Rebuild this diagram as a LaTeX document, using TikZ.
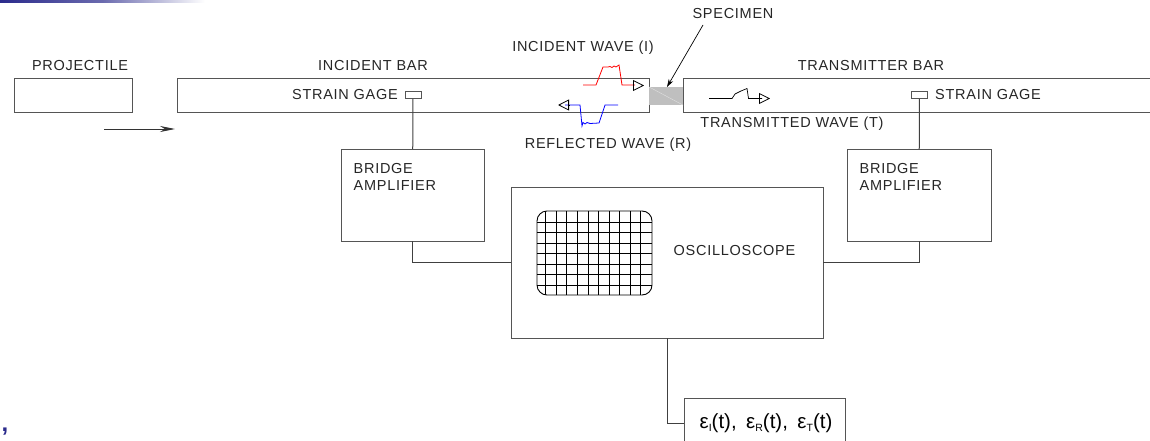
\documentclass[tikz,border=0pt]{standalone}
\usepackage{fontspec}
\usepackage{xcolor}
\usepackage{tikz}
\usetikzlibrary{arrows.meta}
\setmainfont{Liberation Sans}
\definecolor{boxline}{HTML}{555555}
\definecolor{slidenavy}{HTML}{2B2B8C}
\newcommand*{\screenXMin}{537}
\newcommand*{\screenXMax}{652}
\newcommand*{\screenYMin}{211}
\newcommand*{\screenYMax}{295}
\newcommand*{\strainOf}[1]{ε\raisebox{-3.5pt}{\fontsize{10.5pt}{11pt}\selectfont #1}(t)}
\tikzset{
  boxnode/.style={draw=boxline,line width=1pt,inner sep=0pt,outer sep=0pt},
  label/.style={font=\fontsize{14.5pt}{15pt}\selectfont\addfontfeature{LetterSpace=5},text=black!85,inner sep=0pt},
  wire/.style={draw=black!75,line width=1pt},
  wavetip/.style={black,line width=0.8pt,-{Triangle[open,length=11pt,width=11pt]}},
}
\begin{document}
\begin{tikzpicture}[x=1pt,y=-1pt]
    \useasboundingbox (0,0) rectangle (1150,441);

    \shade [left color=slidenavy,right color=white,middle color=slidenavy!70] (0,0) rectangle (205,2.5);
    \node [text=slidenavy,font=\fontsize{24pt}{24pt}\selectfont\bfseries,inner sep=0pt] (mark) at (5,432) {,};

    % bars
    \node [boxnode,minimum width=118pt,minimum height=34pt] (projectile) at (73,96) {};
    \node [boxnode,minimum width=472pt,minimum height=34pt] (incident) at (413,96) {};
    \node [boxnode,minimum width=480pt,minimum height=34pt] (transmitter) at (923,96) {};
    \node [draw=none,fill=black!25,minimum width=34pt,minimum height=18pt,inner sep=0pt] (specimen) at (666,96) {};
    \draw [black!12,line width=0.4pt] (specimen.north west) -- (specimen.south east);

    % gages and boxes
    \node [boxnode,minimum width=16pt,minimum height=7pt] (gageI) at (413,95.5) {};
    \node [boxnode,minimum width=16pt,minimum height=7pt] (gageT) at (919.5,95.5) {};
    \node [boxnode,minimum width=143pt,minimum height=92pt] (bridgeI) at (412.5,195) {};
    \node [boxnode,minimum width=144pt,minimum height=92pt] (bridgeT) at (919,195) {};
    \node [boxnode,minimum width=312pt,minimum height=151pt] (scope) at (667,262.5) {};
    \node [boxnode,minimum width=161pt,minimum height=50pt,font=\fontsize{20.5pt}{22pt}\selectfont] (output) at (764.5,423)
      {\hspace*{3pt}\strainOf{I},\hspace{9.5pt}\strainOf{R},\hspace{9.5pt}\strainOf{T}};

    % screen
    \begin{scope}
      \clip [rounded corners=10pt] (\screenXMin,\screenYMin) rectangle (\screenXMax,\screenYMax);
      \foreach \i in {0,...,9} {
        \draw [black,line width=0.8pt] ({545.7+10.55*\i},\screenYMin) -- ({545.7+10.55*\i},\screenYMax);
      }
      \foreach \i in {0,...,6} {
        \draw [black,line width=0.8pt] (\screenXMin,{222.3+10.5*\i}) -- (\screenXMax,{222.3+10.5*\i});
      }
    \end{scope}
    \draw [black,line width=0.9pt,rounded corners=10pt] (\screenXMin,\screenYMin) rectangle (\screenXMax,\screenYMax);

    % connectors
    \draw [wire] (gageI) -- (bridgeI);
    \draw [wire] (gageT) -- (bridgeT);
    \draw [wire] (bridgeI.south) |- (scope.west);
    \draw [wire] (bridgeT.south) |- (scope.east);
    \draw [wire] (scope.south) |- (output.west);

    % arrows
    \coordinate (flyStart) at (104,129);
    \coordinate (flyEnd) at (175,129);
    \draw [black!80,line width=0.9pt,-{Stealth[length=15pt,width=6pt]}] (flyStart) -- (flyEnd);
    \coordinate (specimenTag) at (703,25);
    \coordinate (specimenTip) at (667,87);
    \draw [black,line width=0.7pt,-{Stealth[length=8pt,width=5pt]}] (specimenTag) -- (specimenTip);

    % waves
    \draw [red,line width=0.8pt] (583,85) -- (596,85) -- (603,67) -- (608,67) -- (610,66.5) -- (612,67.5) -- (614,66) -- (616,67) -- (619,65) -- (622,85) -- (635,85);
    \draw [wavetip] (633,85.5) -- (644,85.5);
    \draw [blue,line width=0.8pt] (618,105) -- (605,105) -- (599,123) -- (590,123.5) -- (587,122.5) -- (585,124) -- (583,122.5) -- (582,126) -- (580,105) -- (565,105);
    \draw [wavetip] (569,105) -- (558,105);
    \draw [black,line width=0.7pt] (709,98.5) -- (732,98.5) -- (735,94) -- (741,91) -- (747,88.5) -- (748.5,98.5) -- (762,98.5);
    \draw [wavetip] (759,98.5) -- (770,98.5);

    % labels
    \node [label] (projectileText) at (80,66) {PROJECTILE};
    \node [label] (incidentText) at (373,66) {INCIDENT BAR};
    \node [label] (transmitterText) at (871,66) {TRANSMITTER BAR};
    \node [label,anchor=east] (gageIText) at (398,95) {STRAIN GAGE};
    \node [label,anchor=west] (gageTText) at (935,95) {STRAIN GAGE};
    \node [label] (specimenText) at (733,14) {SPECIMEN};
    \node [label] (incidentWave) at (583,48) {INCIDENT WAVE (I)};
    \node [label] (reflectedWave) at (608,145) {REFLECTED WAVE (R)};
    \node [label] (transmittedWave) at (792,124) {TRANSMITTED WAVE (T)};
    \node [label,align=left,anchor=north west] (bridgeIText) at (353.5,163) {BRIDGE\\[2pt]AMPLIFIER};
    \node [label,align=left,anchor=north west] (bridgeTText) at (859.5,163) {BRIDGE\\[2pt]AMPLIFIER};
    \node [label] (scopeText) at (734.5,251) {OSCILLOSCOPE};
  \end{tikzpicture}
\end{document}
